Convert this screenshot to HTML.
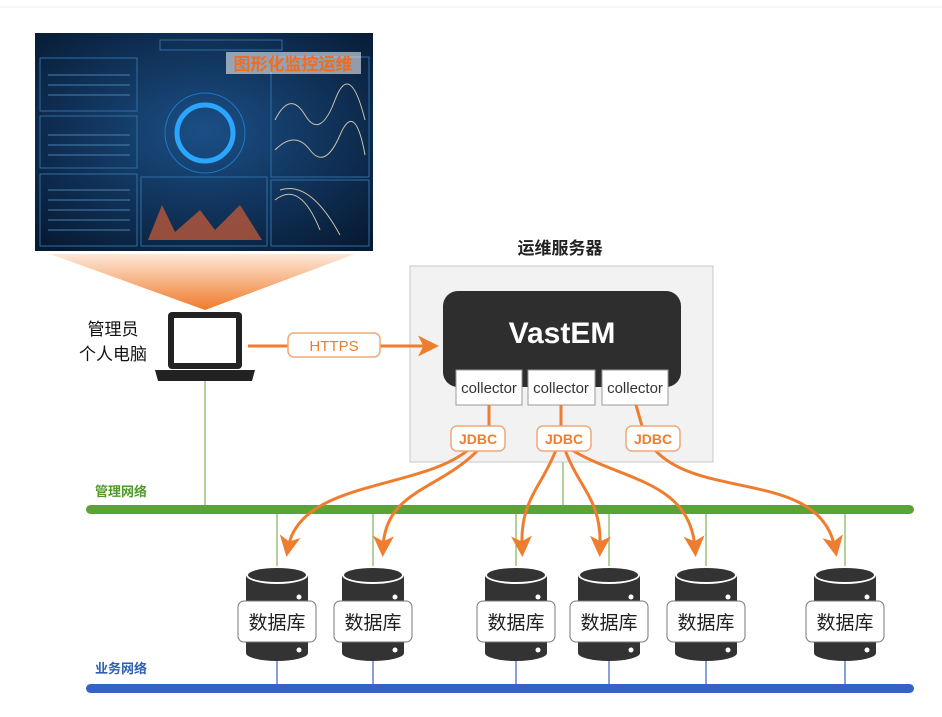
<!DOCTYPE html>
<html><head><meta charset="utf-8"><style>
html,body{margin:0;padding:0;background:#fff}
svg{display:block}
text{font-family:"Liberation Sans","Noto Sans CJK SC",sans-serif}
</style></head><body>
<svg width="942" height="717" viewBox="0 0 942 717" xmlns="http://www.w3.org/2000/svg">
<defs>
<linearGradient id="tr" x1="0" y1="0" x2="0" y2="1"><stop offset="0" stop-color="#fde8d8"/><stop offset="1" stop-color="#f07a2a"/></linearGradient>
<radialGradient id="dash" cx="0.5" cy="0.45" r="0.7"><stop offset="0" stop-color="#1b4f86"/><stop offset="1" stop-color="#071a33"/></radialGradient>
<marker id="ah" markerWidth="7" markerHeight="7" refX="4" refY="3.5" orient="auto" markerUnits="strokeWidth"><path d="M0,0 L7,3.5 L0,7 L1.8,3.5 Z" fill="#ef7d2f"/></marker>
</defs>
<line x1="0" y1="7" x2="942" y2="7" stroke="#eee"/>
<!-- dashboard -->
<path d="M50,254 L355,254 L205,310 Z" fill="url(#tr)"/>
<rect x="35" y="33" width="338" height="218" fill="url(#dash)"/>
<g fill="none" stroke="#2f6ea6" stroke-width="1">
<rect x="40" y="58" width="97" height="53"/><rect x="40" y="116" width="97" height="52"/><rect x="40" y="174" width="97" height="72"/>
<rect x="141" y="177" width="126" height="69"/><rect x="271" y="57" width="98" height="120"/><rect x="271" y="180" width="98" height="66"/>
<rect x="160" y="40" width="122" height="10"/>
<circle cx="205" cy="133" r="28" stroke="#2aa6ff" stroke-width="5"/><circle cx="205" cy="133" r="40" stroke="#1d79c4"/>
</g>
<g stroke="#4a7fb0" stroke-width="1">
<line x1="48" y1="75" x2="130" y2="75"/><line x1="48" y1="85" x2="130" y2="85"/><line x1="48" y1="95" x2="130" y2="95"/>
<line x1="48" y1="135" x2="130" y2="135"/><line x1="48" y1="145" x2="130" y2="145"/><line x1="48" y1="155" x2="130" y2="155"/>
<line x1="48" y1="190" x2="130" y2="190"/><line x1="48" y1="200" x2="130" y2="200"/><line x1="48" y1="210" x2="130" y2="210"/><line x1="48" y1="220" x2="130" y2="220"/><line x1="48" y1="230" x2="130" y2="230"/>
</g>
<path d="M148,240 L162,205 L175,232 L200,210 L215,230 L240,205 L262,240 Z" fill="#b9583a" opacity="0.8"/>
<path d="M275,120 Q290,90 305,115 T335,100 T365,120 M275,150 Q295,130 310,150 T340,135 T365,155 M275,200 Q300,180 320,230 M280,190 Q310,180 340,235" stroke="#c9c2a8" fill="none" stroke-width="1"/>
<rect x="226" y="52" width="135" height="22" fill="#fff" opacity="0.55"/>
<text x="293" y="70" font-size="17" font-weight="bold" fill="#ef6d22" text-anchor="middle">图形化监控运维</text>
<!-- laptop -->
<rect x="168" y="312" width="74" height="57" rx="4" fill="#222"/>
<rect x="174" y="318" width="62" height="45" fill="#fff"/>
<path d="M155,370 L255,370 L252,381 L158,381 Z" fill="#222"/>
<text x="113" y="335" font-size="17" text-anchor="middle" fill="#111">管理员</text>
<text x="113" y="360" font-size="17" text-anchor="middle" fill="#111">个人电脑</text>
<!-- green/blue network -->
<line x1="205" y1="381" x2="205" y2="509" stroke="#7fb45a" stroke-width="1.2"/>
<line x1="563" y1="450" x2="563" y2="509" stroke="#7fb45a" stroke-width="1.2"/>
<text x="95" y="496" font-size="13" font-weight="bold" fill="#4f9a2b">管理网络</text>
<rect x="86" y="505" width="828" height="9" rx="4.5" fill="#5ba336"/>
<text x="95" y="673" font-size="13" font-weight="bold" fill="#2f5fb0">业务网络</text>
<rect x="86" y="684" width="828" height="9" rx="4.5" fill="#3563c4"/>
<!-- server -->
<text x="560" y="254" font-size="17" font-weight="bold" text-anchor="middle" fill="#222">运维服务器</text>
<rect x="410" y="266" width="303" height="196" fill="#f2f2f2" stroke="#c8c8c8"/>
<rect x="443" y="291" width="238" height="96" rx="15" fill="#2e2e2e"/>
<text x="562" y="343" font-size="30" font-weight="bold" text-anchor="middle" fill="#fff">VastEM</text>
<!-- https -->
<line x1="248" y1="346" x2="430" y2="346" stroke="#ef7d2f" stroke-width="3" marker-end="url(#ah)"/>
<rect x="288" y="333" width="92" height="24" rx="6" fill="#fff" stroke="#f0a878" stroke-width="1.5"/>
<text x="334" y="351" font-size="15" text-anchor="middle" fill="#ef7d2f">HTTPS</text>
<g font-size="15" fill="#333" text-anchor="middle">
<rect x="456" y="370" width="66" height="35" fill="#fff" stroke="#999"/><text x="489" y="393">collector</text>
<rect x="528" y="370" width="67" height="35" fill="#fff" stroke="#999"/><text x="561" y="393">collector</text>
<rect x="602" y="370" width="66" height="35" fill="#fff" stroke="#999"/><text x="635" y="393">collector</text>
</g>
<g stroke="#ef7d2f" stroke-width="3" fill="none">
<line x1="489" y1="405" x2="489" y2="426"/><line x1="561" y1="405" x2="561" y2="426"/><line x1="636" y1="405" x2="642" y2="426"/>
</g>
<!-- vertical green drops to dbs -->
<g stroke="#7fb45a" stroke-width="1.2">
<line x1="277" y1="514" x2="277" y2="566"/><line x1="373" y1="514" x2="373" y2="566"/><line x1="516" y1="514" x2="516" y2="566"/>
<line x1="609" y1="514" x2="609" y2="566"/><line x1="706" y1="514" x2="706" y2="566"/><line x1="845" y1="514" x2="845" y2="566"/>
</g>
<!-- orange curves -->
<g stroke="#ef7d2f" stroke-width="3" fill="none" marker-end="url(#ah)">
<path d="M468,450 C420,490 300,480 288,548"/>
<path d="M478,450 C440,490 385,490 383,548"/>
<path d="M556,450 C540,490 520,500 522,548"/>
<path d="M565,450 C580,490 602,500 600,548"/>
<path d="M572,450 C620,480 690,480 695,548"/>
<path d="M655,450 C700,500 820,470 835,548"/>
</g>
<g font-size="14" fill="#ef7d2f" text-anchor="middle" font-weight="bold">
<rect x="451" y="426" width="54" height="25" rx="6" fill="#fff" stroke="#f0a878" stroke-width="1.5"/><text x="478" y="444">JDBC</text>
<rect x="537" y="426" width="54" height="25" rx="6" fill="#fff" stroke="#f0a878" stroke-width="1.5"/><text x="564" y="444">JDBC</text>
<rect x="626" y="426" width="54" height="25" rx="6" fill="#fff" stroke="#f0a878" stroke-width="1.5"/><text x="653" y="444">JDBC</text>
</g>
<!-- databases -->
<g font-size="19" text-anchor="middle" fill="#222">
<g transform="translate(277,0)">
<line x1="0" y1="660" x2="0" y2="688" stroke="#3563c4" stroke-width="1.2"/>
<path d="M-31,575 L-31,653 A31,8 0 0 0 31,653 L31,575 Z" fill="#333"/><ellipse cx="0" cy="575" rx="31" ry="9" fill="#fff"/><ellipse cx="0" cy="575" rx="29" ry="7" fill="#333"/>
<circle cx="22" cy="597" r="2.5" fill="#fff"/><circle cx="22" cy="650" r="2.5" fill="#fff"/>
<rect x="-39" y="601" width="78" height="41" rx="6" fill="#fff" stroke="#777"/><text x="0" y="629">数据库</text></g>
<g transform="translate(373,0)">
<line x1="0" y1="660" x2="0" y2="688" stroke="#3563c4" stroke-width="1.2"/>
<path d="M-31,575 L-31,653 A31,8 0 0 0 31,653 L31,575 Z" fill="#333"/><ellipse cx="0" cy="575" rx="31" ry="9" fill="#fff"/><ellipse cx="0" cy="575" rx="29" ry="7" fill="#333"/>
<circle cx="22" cy="597" r="2.5" fill="#fff"/><circle cx="22" cy="650" r="2.5" fill="#fff"/>
<rect x="-39" y="601" width="78" height="41" rx="6" fill="#fff" stroke="#777"/><text x="0" y="629">数据库</text></g>
<g transform="translate(516,0)">
<line x1="0" y1="660" x2="0" y2="688" stroke="#3563c4" stroke-width="1.2"/>
<path d="M-31,575 L-31,653 A31,8 0 0 0 31,653 L31,575 Z" fill="#333"/><ellipse cx="0" cy="575" rx="31" ry="9" fill="#fff"/><ellipse cx="0" cy="575" rx="29" ry="7" fill="#333"/>
<circle cx="22" cy="597" r="2.5" fill="#fff"/><circle cx="22" cy="650" r="2.5" fill="#fff"/>
<rect x="-39" y="601" width="78" height="41" rx="6" fill="#fff" stroke="#777"/><text x="0" y="629">数据库</text></g>
<g transform="translate(609,0)">
<line x1="0" y1="660" x2="0" y2="688" stroke="#3563c4" stroke-width="1.2"/>
<path d="M-31,575 L-31,653 A31,8 0 0 0 31,653 L31,575 Z" fill="#333"/><ellipse cx="0" cy="575" rx="31" ry="9" fill="#fff"/><ellipse cx="0" cy="575" rx="29" ry="7" fill="#333"/>
<circle cx="22" cy="597" r="2.5" fill="#fff"/><circle cx="22" cy="650" r="2.5" fill="#fff"/>
<rect x="-39" y="601" width="78" height="41" rx="6" fill="#fff" stroke="#777"/><text x="0" y="629">数据库</text></g>
<g transform="translate(706,0)">
<line x1="0" y1="660" x2="0" y2="688" stroke="#3563c4" stroke-width="1.2"/>
<path d="M-31,575 L-31,653 A31,8 0 0 0 31,653 L31,575 Z" fill="#333"/><ellipse cx="0" cy="575" rx="31" ry="9" fill="#fff"/><ellipse cx="0" cy="575" rx="29" ry="7" fill="#333"/>
<circle cx="22" cy="597" r="2.5" fill="#fff"/><circle cx="22" cy="650" r="2.5" fill="#fff"/>
<rect x="-39" y="601" width="78" height="41" rx="6" fill="#fff" stroke="#777"/><text x="0" y="629">数据库</text></g>
<g transform="translate(845,0)">
<line x1="0" y1="660" x2="0" y2="688" stroke="#3563c4" stroke-width="1.2"/>
<path d="M-31,575 L-31,653 A31,8 0 0 0 31,653 L31,575 Z" fill="#333"/><ellipse cx="0" cy="575" rx="31" ry="9" fill="#fff"/><ellipse cx="0" cy="575" rx="29" ry="7" fill="#333"/>
<circle cx="22" cy="597" r="2.5" fill="#fff"/><circle cx="22" cy="650" r="2.5" fill="#fff"/>
<rect x="-39" y="601" width="78" height="41" rx="6" fill="#fff" stroke="#777"/><text x="0" y="629">数据库</text></g>
</g>
</svg>
</body></html>
